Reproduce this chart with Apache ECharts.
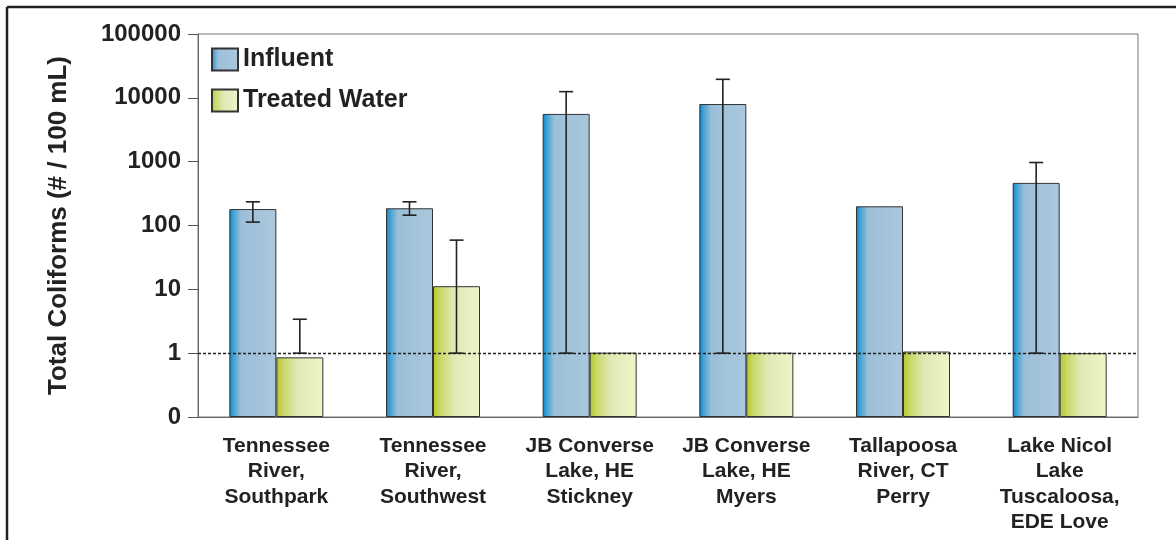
<!DOCTYPE html>
<html>
<head>
<meta charset="utf-8">
<script src="https://cdn.jsdelivr.net/npm/echarts@6/dist/echarts.min.js"></script>
<style>
  html, body { margin: 0; padding: 0; background: #fff; }
  #box { width: 1176px; height: 540px; }
</style>
</head>
<body>
<div id="box"></div>
<script>
// categories (sites)
var sites = [
  'Tennessee\nRiver,\nSouthpark',
  'Tennessee\nRiver,\nSouthwest',
  'JB Converse\nLake, HE\nStickney',
  'JB Converse\nLake, HE\nMyers',
  'Tallapoosa\nRiver, CT\nPerry',
  'Lake Nicol\nLake\nTuscaloosa,\nEDE Love'
];
// total coliforms (# / 100 mL)
var influent = [181, 186, 5600, 8000, 200, 465];
var treated = [0.86, 11.2, 1.02, 1.02, 1.06, 1.0];
// error bar ranges (null = none)
var influentLow = [113, 145, 1, 1, null, 1];
var influentHigh = [235, 235, 12500, 19500, null, 970];
var treatedLow = [1, 1, null, null, null, null];
var treatedHigh = [3.4, 59, null, null, null, null];

var font = 'Arial, "Liberation Sans", Helvetica, sans-serif';

var influentColor = new echarts.graphic.LinearGradient(0, 0, 1, 0, [
  { offset: 0, color: '#0088cc' },
  { offset: 0.08, color: '#3f9fd2' },
  { offset: 0.25, color: '#9bbfd8' },
  { offset: 1, color: '#abc8dd' }
]);
var treatedColor = new echarts.graphic.LinearGradient(0, 0, 1, 0, [
  { offset: 0, color: '#b4c824' },
  { offset: 0.15, color: '#c9d868' },
  { offset: 0.45, color: '#e0e9b6' },
  { offset: 1, color: '#f0f4c8' }
]);

// error bars drawn with a custom series, shifted to sit on each bar
function errorSeries(name, low, high, shift) {
  var data = [];
  for (let i = 0; i < low.length; i++) {
    if (low[i] != null) data.push([i, low[i], high[i]]);
  }
  return {
    type: 'custom',
    name: name,
    z: 5,
    data: data,
    renderItem: function (params, api) {
      var a = api.coord([api.value(0), api.value(1)]);
      var b = api.coord([api.value(0), api.value(2)]);
      var x = a[0] + shift;
      var hw = 7;
      var st = { stroke: '#222', lineWidth: 1.6 };
      return {
        type: 'group',
        children: [
          { type: 'line', shape: { x1: x, y1: a[1], x2: x, y2: b[1] }, style: st },
          { type: 'line', shape: { x1: x - hw, y1: a[1], x2: x + hw, y2: a[1] }, style: st },
          { type: 'line', shape: { x1: x - hw, y1: b[1], x2: x + hw, y2: b[1] }, style: st }
        ]
      };
    }
  };
}

var option = {
  animation: false,
  backgroundColor: '#fff',
  graphic: [
    { type: 'line', shape: { x1: 7, y1: 7, x2: 1176, y2: 7 }, style: { stroke: '#222', lineWidth: 2.5 } },
    { type: 'line', shape: { x1: 7, y1: 7, x2: 7, y2: 540 }, style: { stroke: '#222', lineWidth: 2.5 } }
  ],
  grid: {
    left: 198, right: 38, top: 34, bottom: 123,
    show: true, borderColor: '#777', borderWidth: 1
  },
  legend: {
    orient: 'vertical',
    left: 206, top: 42,
    icon: 'rect',
    itemWidth: 26, itemHeight: 22, itemGap: 16,
    data: ['Influent', 'Treated Water'],
    textStyle: { fontFamily: font, fontWeight: 'bold', fontSize: 25, color: '#222' }
  },
  xAxis: {
    type: 'category',
    data: sites,
    axisLine: { lineStyle: { color: '#666', width: 1 } },
    axisTick: { length: 11, lineStyle: { color: '#555' } },
    axisLabel: {
      interval: 0, margin: 16, lineHeight: 25.5,
      fontFamily: font, fontWeight: 'bold', fontSize: 21, color: '#222'
    }
  },
  yAxis: {
    type: 'log',
    logBase: 10,
    min: 0.1, max: 100000,
    startValue: 0.1,
    name: 'Total Coliforms (# / 100 mL)',
    nameLocation: 'middle',
    nameGap: 126,
    nameTextStyle: { fontFamily: font, fontWeight: 'bold', fontSize: 26, color: '#222' },
    axisLine: { show: true, lineStyle: { color: '#666', width: 1 } },
    axisTick: { show: true, length: 10, lineStyle: { color: '#555' } },
    splitLine: { show: false },
    axisLabel: {
      margin: 17,
      fontFamily: font, fontWeight: 'bold', fontSize: 24, color: '#222',
      formatter: function (v) { return v < 1 ? '0' : String(Math.round(v)); }
    }
  },
  series: [
    {
      name: 'Influent',
      type: 'bar',
      data: influent,
      barWidth: 47,
      barGap: '0%',
      itemStyle: { color: influentColor, borderColor: '#333', borderWidth: 1 },
      markLine: {
        silent: true,
        symbol: 'none',
        label: { show: false },
        lineStyle: { color: '#222', type: [3, 2], width: 1.4 },
        data: [{ yAxis: 1 }]
      }
    },
    {
      name: 'Treated Water',
      type: 'bar',
      data: treated,
      barWidth: 47,
      itemStyle: { color: treatedColor, borderColor: '#333', borderWidth: 1 }
    },
    errorSeries('influentErr', influentLow, influentHigh, -23.5),
    errorSeries('treatedErr', treatedLow, treatedHigh, 23.5)
  ]
};

var myChart = echarts.init(document.getElementById('box'));
myChart.setOption(option);
</script>
</body>
</html>
